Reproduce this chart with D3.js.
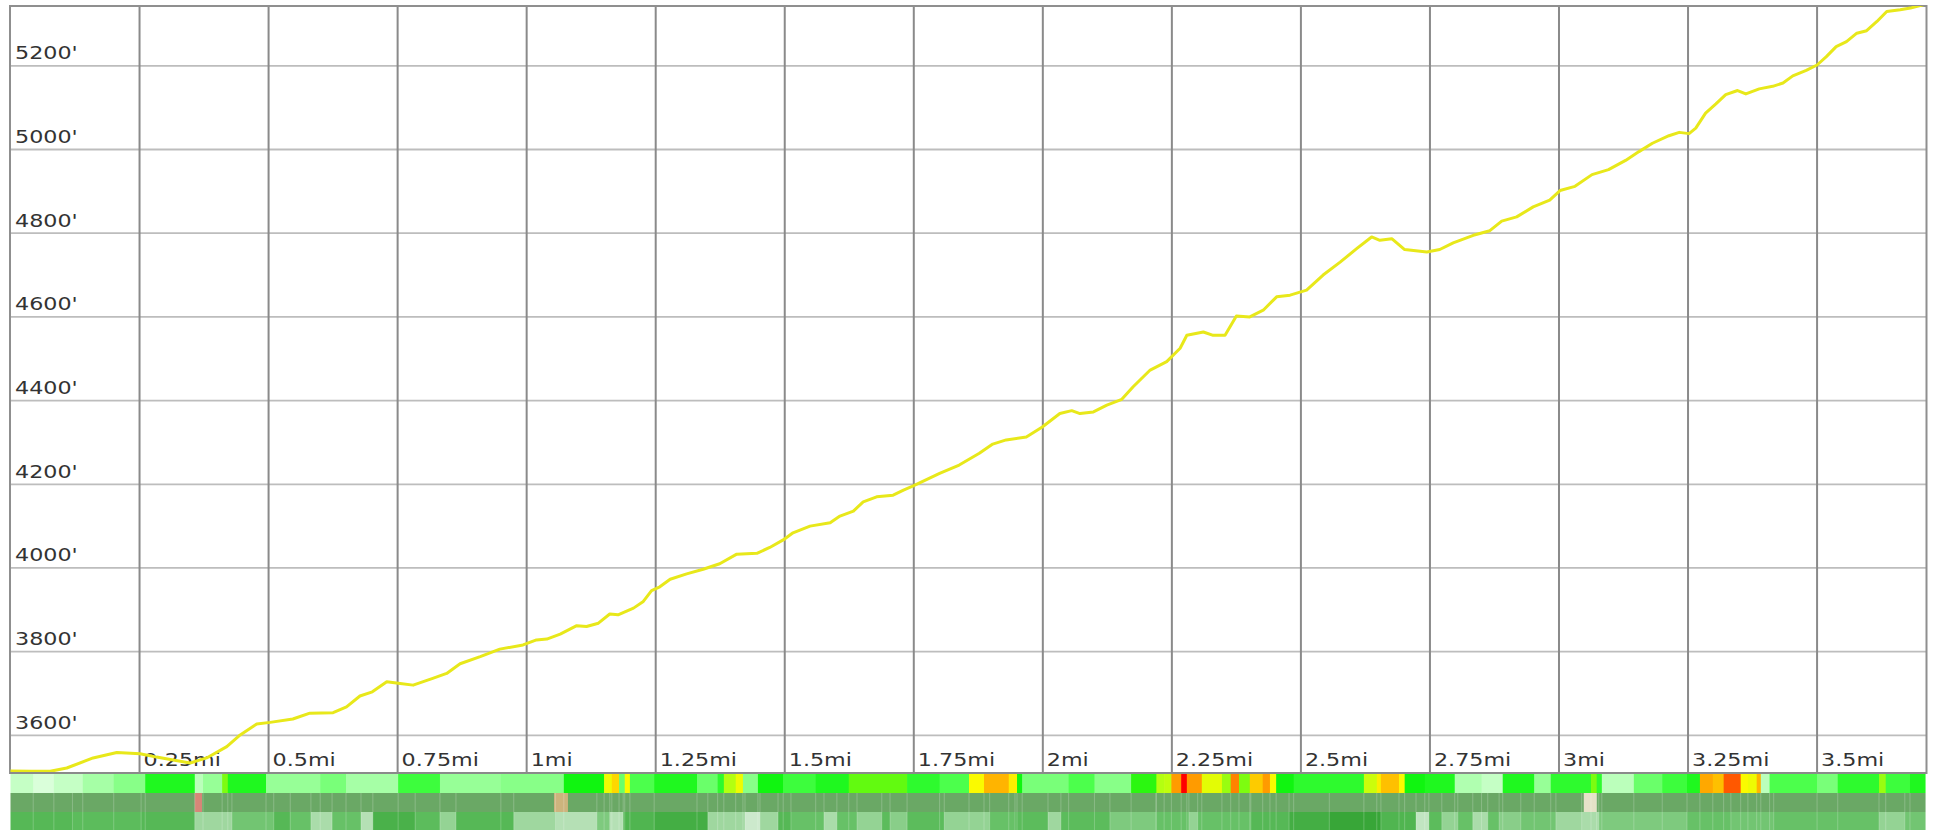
<!DOCTYPE html>
<html>
<head>
<meta charset="utf-8">
<script src="https://cdn.jsdelivr.net/npm/d3@7"></script>
<style>
  body { margin: 0; background: #fff; }
  svg { display: block; }
</style>
</head>
<body>
<svg id="chart"></svg>
<script>
// distance along the trail (mi) and elevation (ft)
const miles = [0.000, 0.040, 0.077, 0.109, 0.160, 0.206, 0.251, 0.283, 0.315, 0.348,
  0.380, 0.419, 0.445, 0.477, 0.503, 0.547, 0.580, 0.625, 0.651, 0.677,
  0.701, 0.729, 0.755, 0.780, 0.818, 0.845, 0.871, 0.910, 0.948, 0.993,
  1.019, 1.039, 1.065, 1.097, 1.116, 1.139, 1.161, 1.177, 1.207, 1.226,
  1.242, 1.258, 1.278, 1.310, 1.342, 1.374, 1.407, 1.446, 1.471, 1.497,
  1.516, 1.549, 1.588, 1.607, 1.633, 1.652, 1.678, 1.710, 1.730, 1.749,
  1.800, 1.838, 1.877, 1.903, 1.929, 1.968, 1.999, 2.033, 2.056, 2.072,
  2.098, 2.124, 2.153, 2.175, 2.208, 2.240, 2.266, 2.279, 2.311, 2.330,
  2.353, 2.375, 2.401, 2.427, 2.453, 2.479, 2.511, 2.543, 2.576, 2.608,
  2.637, 2.653, 2.676, 2.701, 2.744, 2.769, 2.795, 2.834, 2.866, 2.889,
  2.918, 2.950, 2.982, 3.002, 3.031, 3.064, 3.096, 3.129, 3.155, 3.181,
  3.213, 3.233, 3.252, 3.265, 3.284, 3.304, 3.323, 3.346, 3.362, 3.388,
  3.414, 3.434, 3.453, 3.479, 3.500, 3.518, 3.537, 3.557, 3.577, 3.596,
  3.616, 3.635, 3.661, 3.681, 3.712]
const elevation = [3515, 3514, 3514, 3522, 3546, 3559, 3556, 3548, 3541, 3534,
  3546, 3573, 3601, 3627, 3631, 3639, 3653, 3654, 3668, 3694,
  3704, 3728, 3724, 3720, 3736, 3748, 3771, 3788, 3806, 3816,
  3828, 3830, 3842, 3862, 3860, 3868, 3890, 3888, 3904, 3920,
  3946, 3955, 3973, 3986, 3997, 4010, 4033, 4035, 4049, 4067,
  4084, 4100, 4108, 4124, 4136, 4158, 4170, 4174, 4186, 4196,
  4226, 4246, 4274, 4296, 4306, 4313, 4337, 4369, 4376, 4369,
  4373, 4389, 4403, 4433, 4473, 4493, 4525, 4556, 4564, 4556,
  4556, 4602, 4600, 4616, 4648, 4652, 4664, 4700, 4731, 4763,
  4791, 4783, 4787, 4761, 4755, 4761, 4777, 4795, 4806, 4829,
  4839, 4863, 4879, 4902, 4912, 4940, 4952, 4974, 4995, 5015,
  5033, 5041, 5038, 5051, 5087, 5109, 5131, 5141, 5133, 5145,
  5151, 5159, 5176, 5189, 5202, 5222, 5246, 5258, 5278, 5284,
  5306, 5330, 5334, 5338, 5348]

const yTicks = [3600, 3800, 4000, 4200, 4400, 4600, 4800, 5000, 5200]
const xTicks = [0.25, 0.5, 0.75, 1, 1.25, 1.5, 1.75, 2, 2.25, 2.5, 2.75, 3, 3.25, 3.5]

// strip 1: grade (%) per segment, segment starts in miles
const gradeStart = [0.000, 0.044, 0.084, 0.140, 0.200, 0.261, 0.357, 0.373, 0.410, 0.421,
  0.495, 0.600, 0.650, 0.751, 0.832, 0.950, 1.072, 1.150, 1.165, 1.179,
  1.190, 1.200, 1.247, 1.330, 1.370, 1.382, 1.405, 1.419, 1.448, 1.497,
  1.560, 1.624, 1.737, 1.800, 1.857, 1.886, 1.934, 1.950, 1.960, 2.050,
  2.100, 2.171, 2.220, 2.235, 2.249, 2.268, 2.279, 2.308, 2.347, 2.364,
  2.380, 2.401, 2.426, 2.440, 2.452, 2.486, 2.622, 2.647, 2.655, 2.690,
  2.701, 2.740, 2.798, 2.850, 2.891, 2.952, 2.984, 3.062, 3.073, 3.083,
  3.145, 3.200, 3.248, 3.273, 3.298, 3.319, 3.352, 3.366, 3.383, 3.391,
  3.408, 3.500, 3.540, 3.620, 3.633, 3.680]
const gradeValue = [1.5, 0.5, 1.5, 3, 4, 7.5, 2, 3.5, 10, 7.5,
  3.5, 4.5, 3, 6.5, 3.5, 4, 8, 13.5, 15.5, 5,
  14, 6, 7.5, 5, 7, 11, 13.5, 4, 8, 6.5,
  7.5, 9.5, 7, 6, 14, 17, 14.5, 8, 4.5, 6,
  4, 8.5, 11, 11.5, 18, 23, 18, 13, 10.5, 19,
  10, 16, 18, 14, 8, 7, 12, 14.5, 16.5, 14,
  8, 7.5, 2.5, 1.5, 7.5, 3.5, 7, 10, 7, 2,
  5, 6.5, 7.5, 17.5, 16.5, 20.5, 14, 13.5, 17, 2,
  6, 4.5, 7, 10.5, 6.5, 7.5]

// strip 2: surface type per segment
const surfaceStart = [0.000, 0.357, 0.371, 1.053, 1.080, 3.048, 3.073]
const surfaceType = ["dirt", "rock", "dirt", "gravel", "dirt", "sand", "dirt"]

// strip 3: canopy openness (0 dense .. 1 open) per segment
const shadeStart = [0.000, 0.120, 0.253, 0.357, 0.429, 0.510, 0.542, 0.582, 0.623, 0.679,
  0.702, 0.784, 0.832, 0.863, 0.975, 1.056, 1.136, 1.161, 1.187, 1.247,
  1.351, 1.423, 1.452, 1.487, 1.512, 1.576, 1.601, 1.640, 1.688, 1.704,
  1.737, 1.809, 1.897, 1.946, 2.010, 2.035, 2.130, 2.219, 2.283, 2.300,
  2.403, 2.477, 2.555, 2.655, 2.723, 2.748, 2.773, 2.804, 2.833, 2.862,
  2.884, 2.926, 2.994, 3.044, 3.077, 3.248, 3.333, 3.416, 3.620, 3.670]
const shadeValue = [0.35, 0.4, 0.35, 0.7, 0.5, 0.35, 0.45, 0.75, 0.45, 0.8,
  0.25, 0.4, 0.65, 0.35, 0.7, 0.8, 0.55, 0.8, 0.3, 0.2,
  0.7, 0.9, 0.7, 0.35, 0.45, 0.75, 0.45, 0.65, 0.4, 0.6,
  0.4, 0.65, 0.45, 0.4, 0.7, 0.4, 0.55, 0.45, 0.65, 0.45,
  0.35, 0.2, 0.1, 0.3, 0.85, 0.4, 0.65, 0.45, 0.75, 0.45,
  0.6, 0.5, 0.7, 0.75, 0.55, 0.45, 0.5, 0.45, 0.65, 0.5]

const width = 1935, height = 830
const plot = { left: 10, right: 1926.5, top: 6, bottom: 773 }
const stripEnd = 3.709
const stripRows = [[773, 793], [793, 812], [812, 830]]
const textStretch = 1.27

const svg = d3.select("#chart")
  .attr("width", width)
  .attr("height", height)
  .style("font-family", "'DejaVu Sans', sans-serif")

const x = d3.scaleLinear().domain([0, 3.712]).range([plot.left + 0.5, plot.right])
const y = d3.scaleLinear().domain([3510, 5343]).range([plot.bottom, plot.top])

// horizontal grid
svg.append("g")
  .selectAll("line")
  .data(yTicks)
  .join("line")
    .attr("x1", plot.left).attr("x2", plot.right)
    .attr("y1", d => y(d)).attr("y2", d => y(d))
    .attr("stroke", "#bdbdbd")
    .attr("stroke-width", 1.8)

// vertical grid
svg.append("g")
  .selectAll("line")
  .data(xTicks)
  .join("line")
    .attr("x1", d => x(d)).attr("x2", d => x(d))
    .attr("y1", plot.top).attr("y2", plot.bottom)
    .attr("stroke", "#8a8a8a")
    .attr("stroke-width", 2)

// frame
svg.append("rect")
  .attr("x", plot.left).attr("y", plot.top)
  .attr("width", plot.right - plot.left).attr("height", plot.bottom - plot.top)
  .attr("fill", "none")
  .attr("stroke", "#8f8f8f")
  .attr("stroke-width", 2)

// y labels, sitting just above their grid line
svg.append("g")
  .selectAll("text")
  .data(yTicks)
  .join("text")
    .attr("transform", d => `translate(${plot.left + 5},${y(d) - 6.5}) scale(${textStretch},1)`)
    .attr("fill", "#333")
    .style("font-size", "17.5px")
    .text(d => d + "'")

// x labels, right of their grid line at the bottom
svg.append("g")
  .selectAll("text")
  .data(xTicks)
  .join("text")
    .attr("transform", d => `translate(${x(d) + 4},${plot.bottom - 7.5}) scale(${textStretch},1)`)
    .attr("fill", "#333")
    .style("font-size", "17.5px")
    .text(d => d + "mi")

// elevation line
svg.append("clipPath").attr("id", "clip")
  .append("rect")
    .attr("x", plot.left).attr("y", plot.top)
    .attr("width", plot.right - plot.left).attr("height", plot.bottom - plot.top)

const line = d3.line()
  .x(d => x(d[0]))
  .y(d => y(d[1]))

svg.append("path")
  .datum(d3.zip(miles, elevation))
  .attr("clip-path", "url(#clip)")
  .attr("fill", "none")
  .attr("stroke", "#e8e81a")
  .attr("stroke-width", 3)
  .attr("stroke-linejoin", "round")
  .attr("d", line)

// strips
function segments(starts, values) {
  return starts.map((s, i) => ({ x0: s, x1: i < starts.length - 1 ? starts[i + 1] : stripEnd, v: values[i] }))
}

const gradeColor = d3.scaleLinear()
  .domain([0, 3, 6, 8, 11, 14, 17, 20, 23])
  .range(["#e4ffe4", "#a6ffa6", "#4cff4c", "#10f510", "#b4ff10", "#fafa00", "#ffb400", "#ff6a00", "#ff0000"])
  .clamp(true)

const surfaceColor = d3.scaleOrdinal()
  .domain(["dirt", "rock", "gravel", "sand"])
  .range(["#6aa865", "#d68678", "#cdb47d", "#e6e2c8"])

const shadeColor = d3.scaleLinear()
  .domain([0, 0.4, 1])
  .range(["#2c9f2c", "#5cbc5c", "#e2f2e2"])

const strips = [
  { data: segments(gradeStart, gradeValue), color: gradeColor },
  { data: segments(surfaceStart, surfaceType), color: surfaceColor },
  { data: segments(shadeStart, shadeValue), color: shadeColor }
]

strips.forEach((s, i) => {
  const [y0, y1] = stripRows[i]
  svg.append("g")
    .selectAll("rect")
    .data(s.data)
    .join("rect")
      .attr("x", d => x(d.x0))
      .attr("width", d => x(d.x1) - x(d.x0) + 0.6)
      .attr("y", y0)
      .attr("height", y1 - y0)
      .attr("fill", d => s.color(d.v))
})

// faint cell separators across the lower strips
const cellEdges = Array.from(new Set(gradeStart.concat(shadeStart))).filter(d => d > 0)
svg.append("g")
  .selectAll("line")
  .data(cellEdges)
  .join("line")
    .attr("x1", d => x(d)).attr("x2", d => x(d))
    .attr("y1", stripRows[1][0]).attr("y2", stripRows[2][1])
    .attr("stroke", "#ffffff")
    .attr("stroke-opacity", 0.22)
    .attr("stroke-width", 1)

// axis line between chart and strips
svg.append("line")
  .attr("x1", plot.left).attr("x2", plot.right)
  .attr("y1", plot.bottom).attr("y2", plot.bottom)
  .attr("stroke", "#8a8a8a")
  .attr("stroke-width", 2)
</script>
</body>
</html>
